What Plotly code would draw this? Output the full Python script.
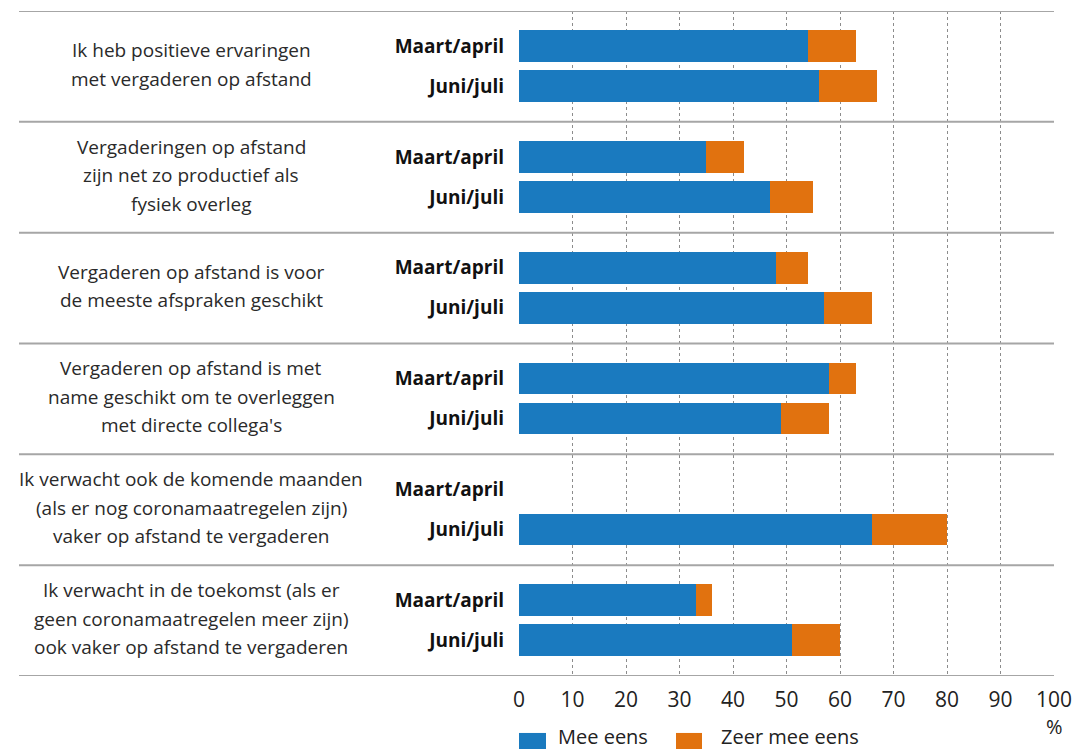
import plotly.graph_objects as go

questions = [
    ["Ik heb positieve ervaringen", "met vergaderen op afstand"],
    ["Vergaderingen op afstand", "zijn net zo productief als", "fysiek overleg"],
    ["Vergaderen op afstand is voor", "de meeste afspraken geschikt"],
    ["Vergaderen op afstand is met", "name geschikt om te overleggen", "met directe collega's"],
    ["Ik verwacht ook de komende maanden", "(als er nog coronamaatregelen zijn)", "vaker op afstand te vergaderen"],
    ["Ik verwacht in de toekomst (als er", "geen coronamaatregelen meer zijn)", "ook vaker op afstand te vergaderen"],
]
periods = ["Maart/april", "Juni/juli"]
mee_eens_maart = [54, 35, 48, 58, None, 33]
zeer_mee_eens_maart = [9, 7, 6, 5, None, 3]
mee_eens_juni = [56, 47, 57, 49, 66, 51]
zeer_mee_eens_juni = [11, 8, 9, 9, 14, 9]
x_ticks = [0, 10, 20, 30, 40, 50, 60, 70, 80, 90, 100]
series_names = ["Mee eens", "Zeer mee eens"]

BLUE = "#1A7ABF"
ORANGE = "#E1720F"
FONT = "Open Sans"
TXT = "#222222"

offsets = [0.317, 0.677]
ypos, labels, mee, zeer = [], [], [], []
for g in range(len(questions)):
    for p, per in enumerate(periods):
        ypos.append(g + offsets[p])
        labels.append("<b>" + per + "</b>")
        mee.append(mee_eens_maart[g] if p == 0 else mee_eens_juni[g])
        zeer.append(zeer_mee_eens_maart[g] if p == 0 else zeer_mee_eens_juni[g])

fig = go.Figure()
fig.add_trace(go.Bar(x=mee, y=ypos, orientation="h", width=0.286, name=series_names[0],
                     marker=dict(color=BLUE, line=dict(width=0)), showlegend=False))
fig.add_trace(go.Bar(x=zeer, y=ypos, orientation="h", width=0.286, name=series_names[1],
                     marker=dict(color=ORANGE, line=dict(width=0)), showlegend=False))

# page body has an 8px margin; work in screen pixels and convert
OFF = 8
W, H = 1085, 749
SX0, SX1, SY0, SY1 = 519, 1054, 10.5, 676  # plot area on screen
L, T = SX0 - OFF, SY0 - OFF
R, B = W - (SX1 - OFF), H - (SY1 - OFF)
pw, ph = SX1 - SX0, SY1 - SY0

def px_x(sx):
    return (sx - SX0) / pw

def px_y(sy):
    return (SY1 - sy) / ph

shapes = []
for g in range(len(questions) + 1):
    shapes.append(dict(type="line", xref="paper", yref="y", x0=px_x(19), x1=1.0,
                       y0=g, y1=g, line=dict(color="#A6A6A6", width=2), layer="above"))

annotations = []
line_sp = 28.5
for g, q in enumerate(questions):
    n = len(q)
    for i, line in enumerate(q):
        annotations.append(dict(text=line, xref="paper", yref="y", x=px_x(191), y=g + 0.5,
                                yshift=((n - 1) / 2 - i) * line_sp + 2, xanchor="center", yanchor="middle",
                                showarrow=False, font=dict(family=FONT, size=19, color="#2a2a2a")))

annotations.append(dict(text="%", xref="paper", yref="paper", x=px_x(1054), y=px_y(727),
                        xanchor="center", yanchor="middle", showarrow=False,
                        font=dict(family=FONT, size=20, color=TXT)))

leg = [(519, 546, 556, BLUE, series_names[0]), (676, 702, 719, ORANGE, series_names[1])]
for x0, x1, tx, col, name in leg:
    shapes.append(dict(type="rect", xref="paper", yref="paper", x0=px_x(x0), x1=px_x(x1),
                       y0=px_y(733), y1=px_y(760), fillcolor=col, line=dict(width=0)))
    annotations.append(dict(text=name, xref="paper", yref="paper", x=px_x(tx), y=px_y(737),
                            xanchor="left", yanchor="middle", showarrow=False,
                            font=dict(family=FONT, size=20, color=TXT)))

fig.update_layout(
    width=W, height=H, margin=dict(l=L, r=R, t=T, b=B),
    barmode="stack", bargap=0, plot_bgcolor="white", paper_bgcolor="white",
    shapes=shapes, annotations=annotations, showlegend=False,
    xaxis=dict(range=[0, 100], tickvals=x_ticks, ticktext=[str(v) for v in x_ticks],
               showgrid=True, gridcolor="#8c8c8c", griddash="dot", gridwidth=1,
               zeroline=False, showline=False, ticks="", ticklabelstandoff=9,
               tickfont=dict(family=FONT, size=21, color=TXT), fixedrange=True),
    yaxis=dict(range=[len(questions), 0], tickvals=ypos, ticktext=labels, showgrid=False,
               zeroline=False, showline=False, ticks="", ticklabelstandoff=14,
               tickfont=dict(family=FONT, size=19, color="#111111"), fixedrange=True),
)

fig.write_html("out.html")
